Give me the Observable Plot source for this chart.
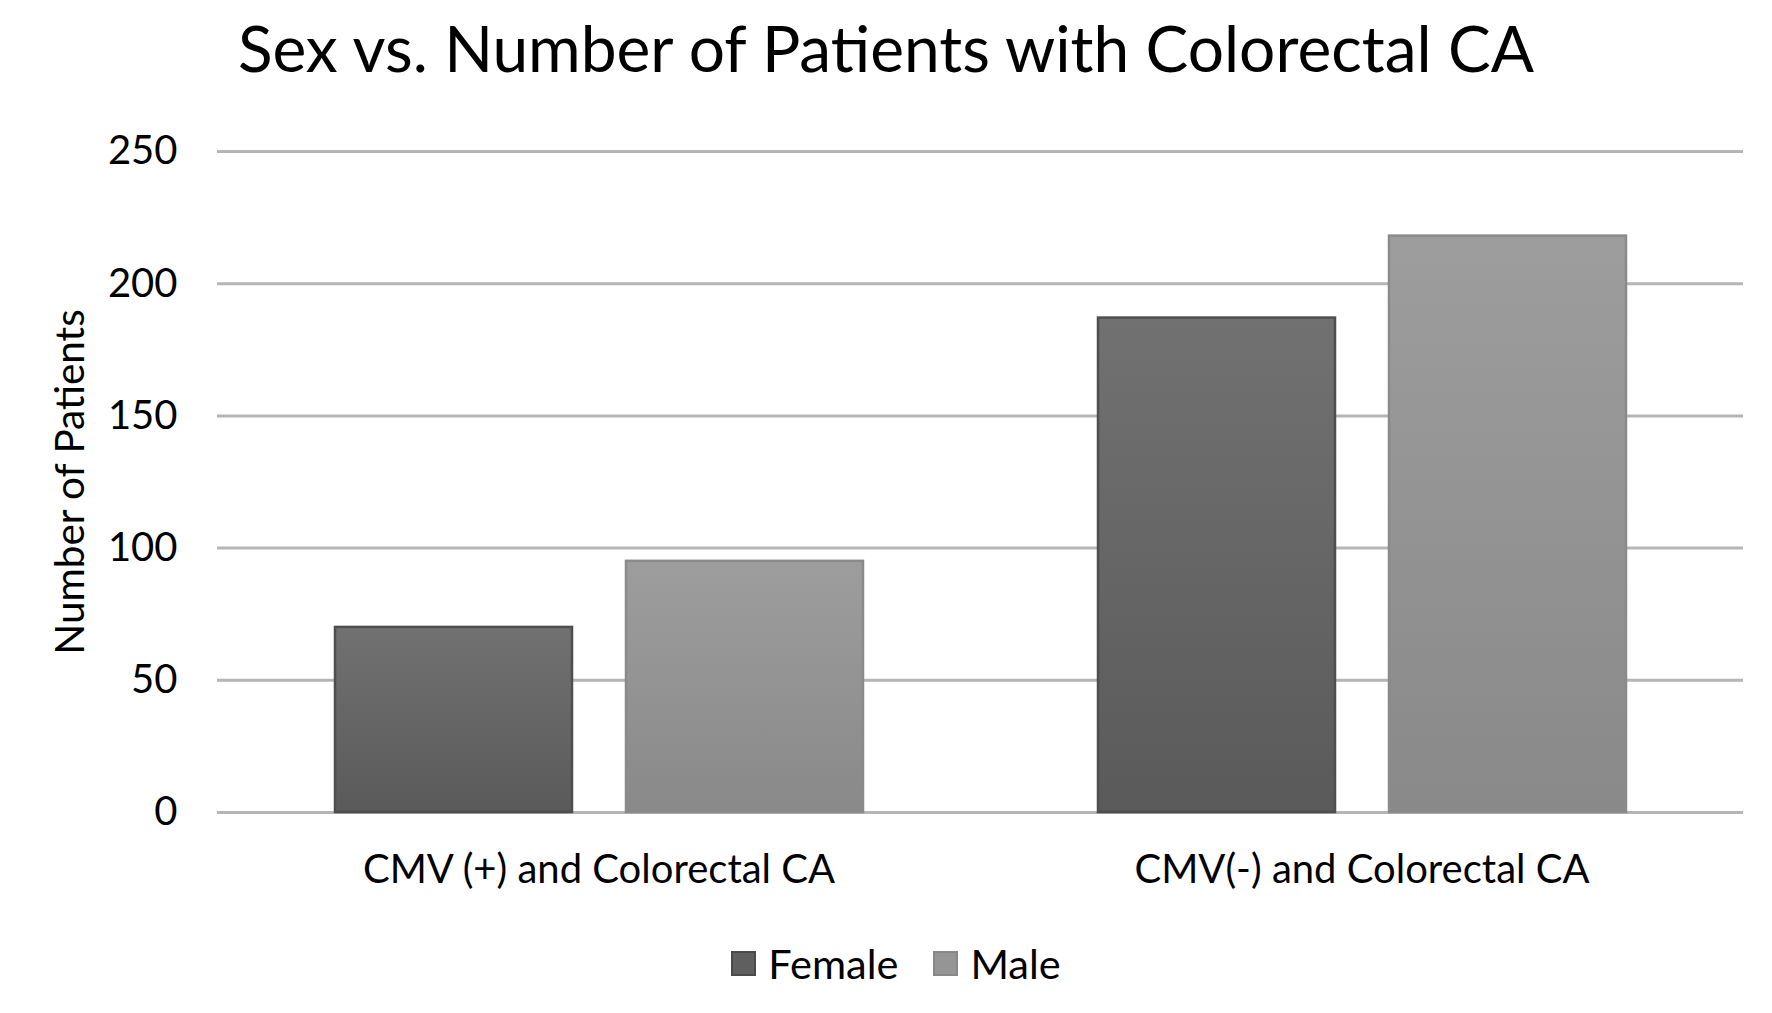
<!DOCTYPE html>
<html>
<head>
<meta charset="utf-8">
<script src="https://cdn.jsdelivr.net/npm/d3@7"></script>
<script src="https://cdn.jsdelivr.net/npm/@observablehq/plot@0.6"></script>
<style>
  body { margin: 0; background: #fff; font-family: Lato, "Open Sans", sans-serif; color: #000; }
  #wrap { width: 1772px; }
  #title { height: 100px; box-sizing: border-box; padding-top: 16px; text-align: center; font-size: 64px; line-height: 64px; color: #000; }
  #legend { margin-top: 3px; height: 60px; display: flex; justify-content: center; align-items: center; font-size: 41.5px; padding-left: 20px; box-sizing: border-box; }
  .item { display: flex; align-items: center; }
  .sw { width: 25px; height: 25px; margin-right: 12px; box-sizing: border-box; }
</style>
</head>
<body>
<div id="wrap">
  <div id="title">Sex vs. Number of Patients with Colorectal CA</div>
  <div id="chart"></div>
  <div id="legend"></div>
</div>
<script>
const groups = ["CMV (+) and Colorectal CA", "CMV(-) and Colorectal CA"];
const sexes = ["Female", "Male"];
const female = [70, 187];
const male = [95, 218];
const yTicks = [0, 50, 100, 150, 200, 250];

const data = groups.flatMap((g, i) => [
  {group: g, sex: "Female", value: female[i]},
  {group: g, sex: "Male", value: male[i]}
]);

function gradientDefs() {
  const defs = d3.create("svg:defs");
  const add = (id, top, bottom) => {
    const lg = defs.append("linearGradient").attr("id", id).attr("x1", 0).attr("y1", 0).attr("x2", 0).attr("y2", 1);
    lg.append("stop").attr("offset", "0%").attr("stop-color", top);
    lg.append("stop").attr("offset", "100%").attr("stop-color", bottom);
  };
  add("gF", "#717171", "#5a5a5a");
  add("gM", "#9d9d9d", "#898989");
  return defs.node();
}

const chart = Plot.plot({
  width: 1772,
  height: 830,
  marginLeft: 217,
  marginRight: 29,
  marginTop: 51,
  marginBottom: 118,
  style: {fontFamily: "Lato, 'Open Sans', sans-serif", color: "#000", background: "#fff"},
  fx: {domain: groups, padding: 0, label: null},
  x: {domain: sexes, paddingInner: 0.186, paddingOuter: 0.40, axis: null},
  y: {domain: [0, 250], label: null},
  marks: [
    gradientDefs,
    Plot.ruleY(yTicks, {stroke: "#b5b5b5", strokeWidth: 3}),
    Plot.barY(data.filter(d => d.sex === "Female"), {fx: "group", x: "sex", y: "value", fill: "url(#gF)", stroke: "#4e4e4e", strokeWidth: 2.5}),
    Plot.barY(data.filter(d => d.sex === "Male"), {fx: "group", x: "sex", y: "value", fill: "url(#gM)", stroke: "#8a8a8a", strokeWidth: 2.5}),
    Plot.axisY({ticks: yTicks, tickSize: 0, tickPadding: 40, fontSize: 40, label: "Number of Patients", labelAnchor: "center", labelArrow: "none", labelOffset: 162}),
    Plot.axisFx({anchor: "bottom", tickSize: 0, tickPadding: 42, fontSize: 40, label: null})
  ]
});
document.getElementById("chart").appendChild(chart);
chart.querySelectorAll("[aria-label='y-axis label'] text, [aria-label='y-axis label']").forEach(el => el.setAttribute("font-size", 40.5));

const legend = document.getElementById("legend");
const items = [
  {label: "Female", fill: "#5f5f5f", border: "#4a4a4a"},
  {label: "Male", fill: "#959595", border: "#888888"}
];
items.forEach((it, i) => {
  const d = document.createElement("div");
  d.className = "item";
  if (i > 0) d.style.marginLeft = "35px";
  const sw = document.createElement("span");
  sw.className = "sw";
  sw.style.background = it.fill;
  sw.style.border = "2px solid " + it.border;
  const t = document.createElement("span");
  t.textContent = it.label;
  d.appendChild(sw); d.appendChild(t);
  legend.appendChild(d);
});
</script>
</body>
</html>
